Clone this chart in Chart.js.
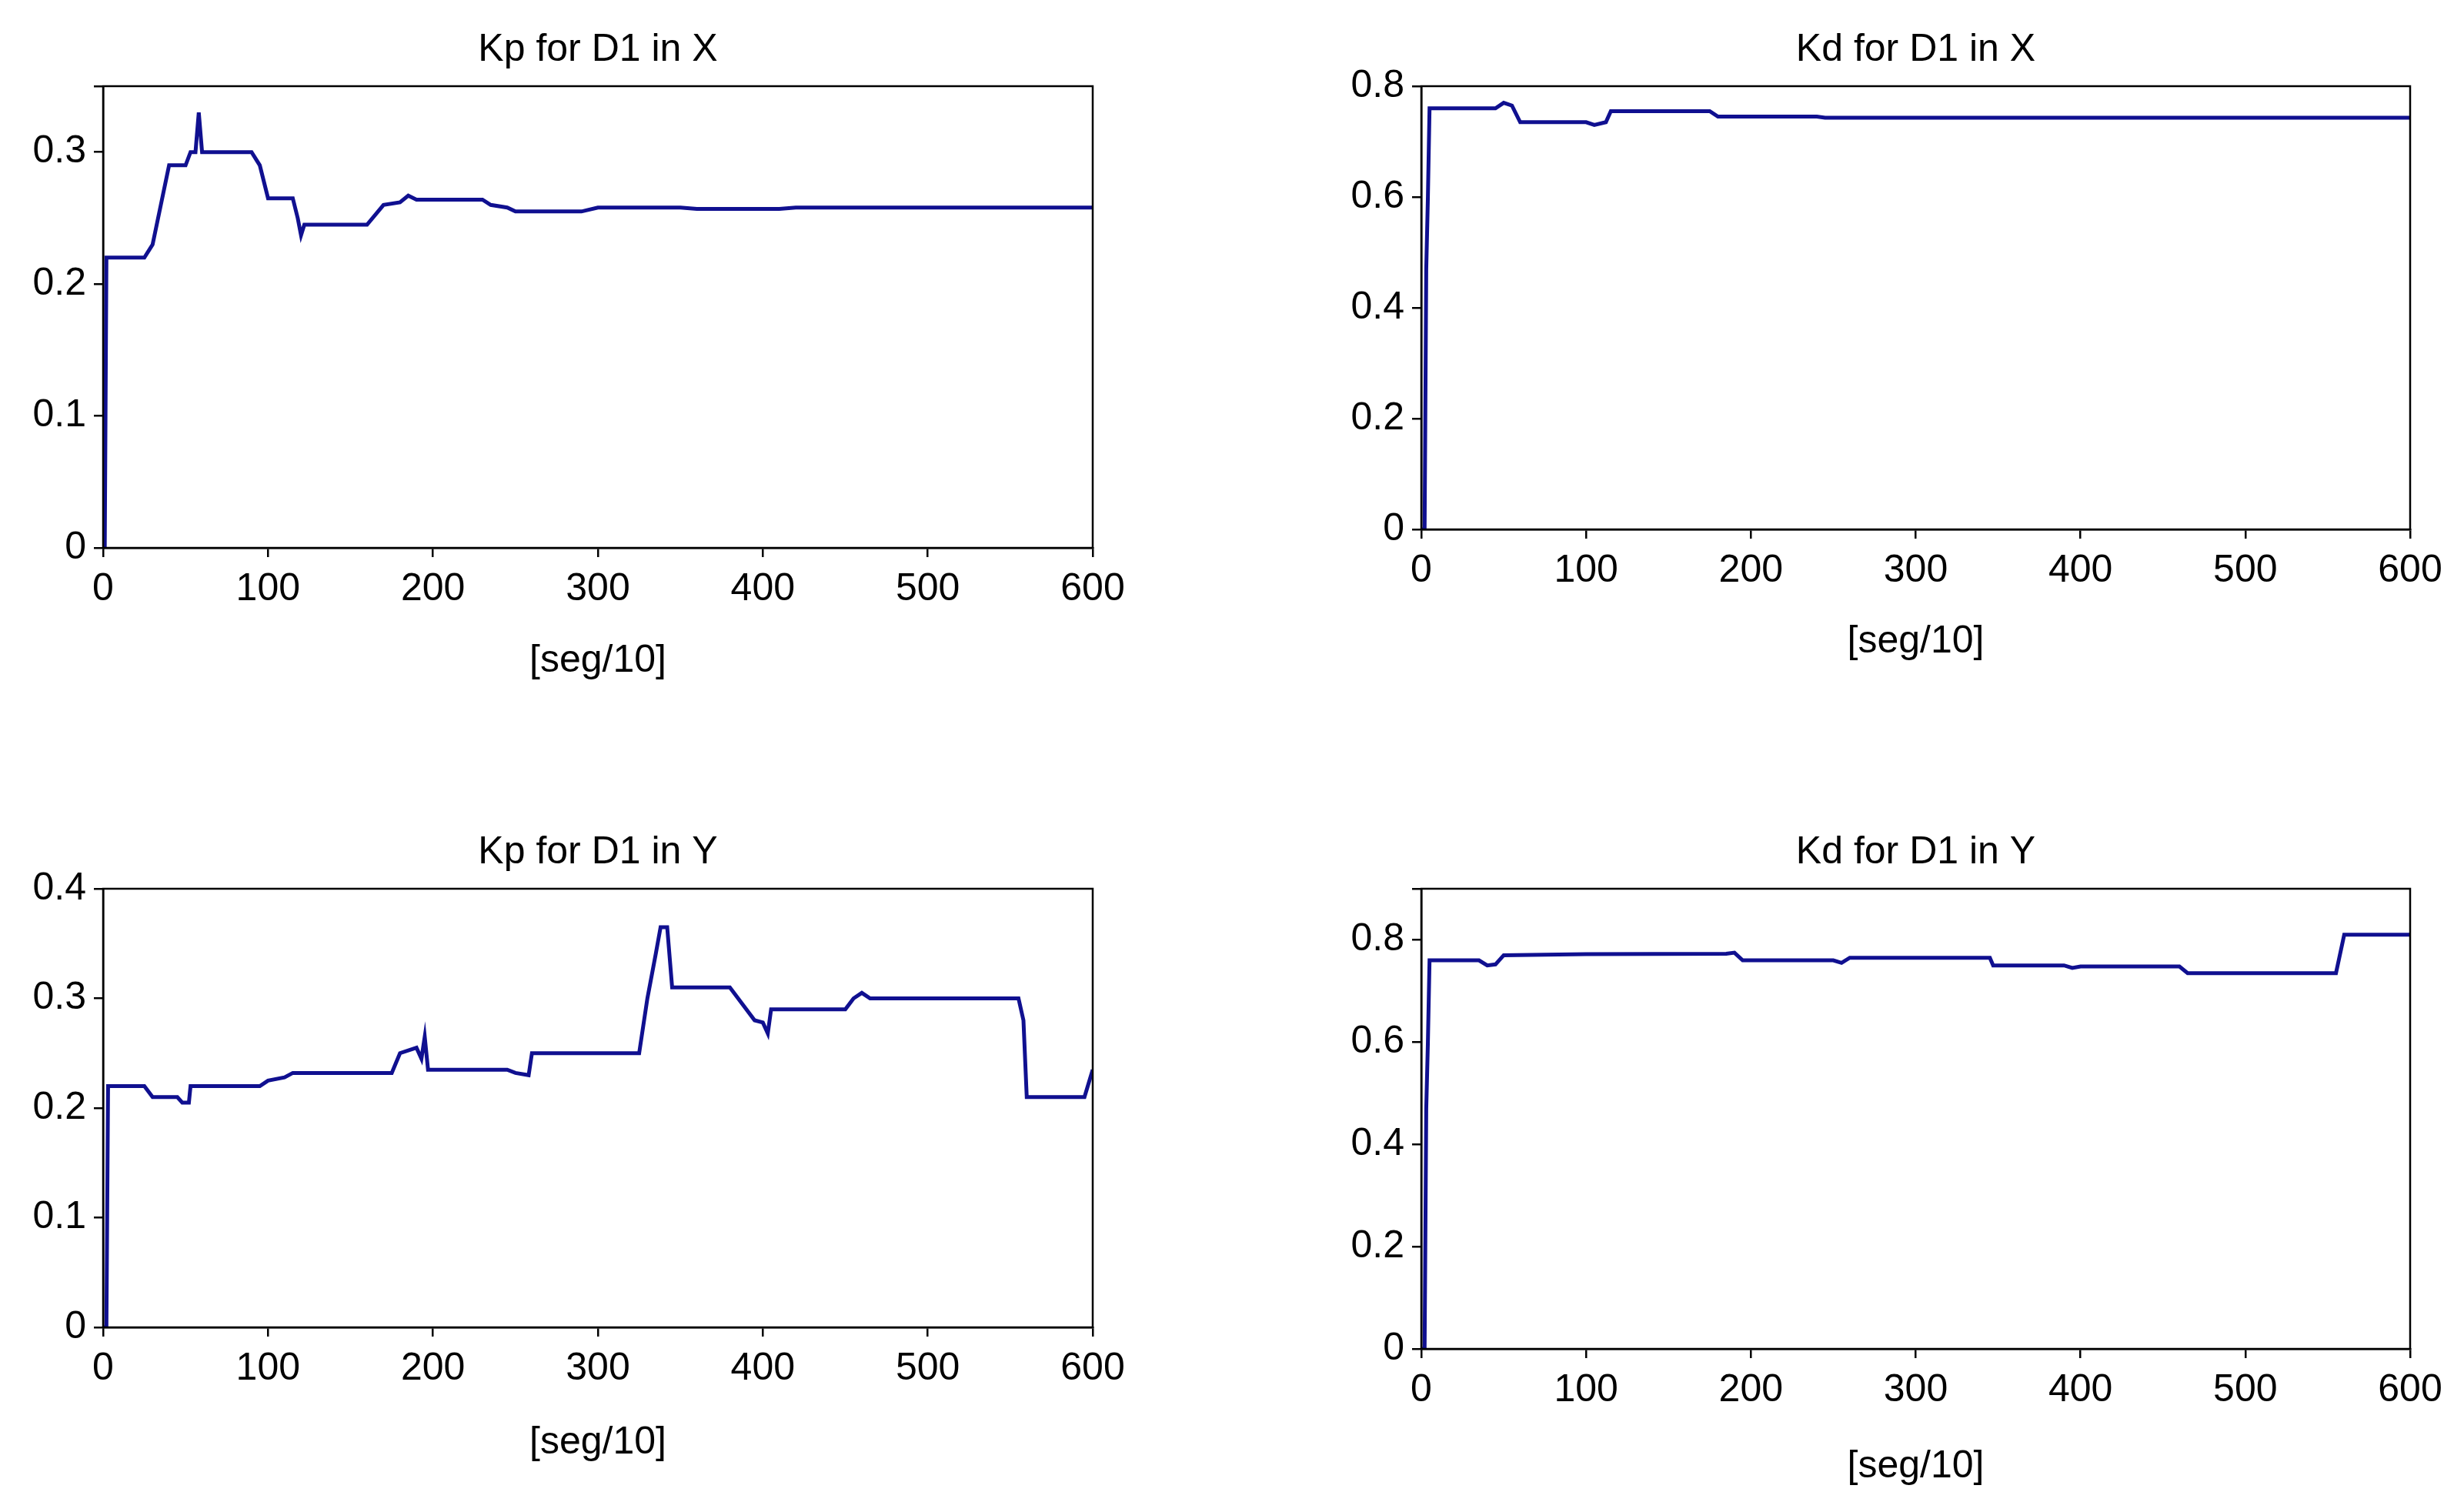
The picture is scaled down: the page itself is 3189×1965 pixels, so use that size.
<!DOCTYPE html>
<html><head><meta charset="utf-8">
<script src="https://cdn.jsdelivr.net/npm/chart.js@4"></script>
<style>body{margin:0;background:#fff;width:3189px;height:1965px;position:relative;overflow:hidden}
.p{position:absolute}</style></head><body>
<div class="p" style="left:0;top:0;width:1480px;height:960px"><canvas id="c1"></canvas></div>
<div class="p" style="left:1700px;top:0;width:1489px;height:960px"><canvas id="c2"></canvas></div>
<div class="p" style="left:0;top:1000px;width:1480px;height:965px"><canvas id="c3"></canvas></div>
<div class="p" style="left:1700px;top:1000px;width:1489px;height:965px"><canvas id="c4"></canvas></div>
<script>
const kpX_x=[0,1,2,25,30,35,40,50,53,56,58,60,90,95,100,115,118,120,122,160,170,180,185,190,230,235,245,250,290,300,350,360,410,420,600];
const kpX_y=[0,0,0.22,0.22,0.23,0.26,0.29,0.29,0.30,0.30,0.33,0.30,0.30,0.29,0.265,0.265,0.25,0.237,0.245,0.245,0.26,0.262,0.267,0.264,0.264,0.26,0.258,0.255,0.255,0.258,0.258,0.257,0.257,0.258,0.258];
const kdX_x=[0,2,3,4,5,45,50,55,60,100,105,112,115,175,180,240,245,600];
const kdX_y=[0,0,0.47,0.6,0.76,0.76,0.77,0.765,0.735,0.735,0.73,0.735,0.755,0.755,0.745,0.745,0.743,0.743];
const kpY_x=[0,2,3,25,30,45,48,52,53,95,100,110,115,175,180,190,193,195,197,245,250,258,260,325,330,335,338,342,345,380,390,395,400,403,405,450,455,460,463,465,555,558,560,595,597,600];
const kpY_y=[0,0,0.22,0.22,0.21,0.21,0.205,0.205,0.22,0.22,0.225,0.228,0.232,0.232,0.25,0.255,0.245,0.265,0.235,0.235,0.232,0.23,0.25,0.25,0.3,0.34,0.365,0.365,0.31,0.31,0.29,0.28,0.278,0.268,0.29,0.29,0.3,0.305,0.302,0.3,0.3,0.28,0.21,0.21,0.22,0.235];
const kdY_x=[0,2,3,4,5,35,40,45,50,100,185,190,195,250,255,260,345,347,390,395,400,460,465,555,557,560,600];
const kdY_y=[0,0,0.47,0.6,0.76,0.76,0.75,0.752,0.77,0.772,0.773,0.775,0.76,0.76,0.755,0.765,0.765,0.75,0.75,0.745,0.748,0.748,0.735,0.735,0.765,0.81,0.81];
const titles=["Kp for D1 in X","Kd for D1 in X","Kp for D1 in Y","Kd for D1 in Y"];
const xTitle="[seg/10]";
const F="'Liberation Sans', Arial, sans-serif";
const boxPlug={id:'box',afterDraw(c){const a=c.chartArea,x=c.ctx;x.save();x.strokeStyle='#000';x.lineWidth=2.5;x.strokeRect(a.left,a.top,a.right-a.left,a.bottom-a.top);
x.fillStyle='#000';x.font='50px '+F;x.textAlign='center';x.textBaseline='bottom';x.fillText(c.options.plugins.myTitle,(a.left+a.right)/2,a.top-22);x.restore();}};
function mk(id,xs,ys,ymax,step,t,padTop,yW,padR,xH,padB){
 new Chart(document.getElementById(id),{type:'line',
 data:{datasets:[{data:xs.map((v,i)=>({x:v,y:ys[i]})),borderColor:'#101090',borderWidth:5,pointRadius:0,tension:0,stepped:false}]},
 options:{responsive:true,maintainAspectRatio:false,animation:false,
  layout:{padding:{top:padTop,right:padR,left:0,bottom:padB}},
  plugins:{legend:{display:false},tooltip:{enabled:false},myTitle:t},
  scales:{
   x:{type:'linear',min:0,max:600,afterFit(s){s.height=xH;},
      ticks:{stepSize:100,color:'#000',font:{size:50,family:F},padding:12,maxRotation:0},
      grid:{drawOnChartArea:false,color:'#000',tickLength:12,lineWidth:2.5},border:{color:'#000',width:2.5},
      title:{display:true,text:xTitle,color:'#000',font:{size:50,family:F},padding:{top:8}}},
   y:{min:0,max:ymax,afterFit(s){s.width=yW;},
      ticks:{stepSize:step,color:'#000',font:{size:50,family:F},padding:10,callback:v=>Math.abs(v-ymax)<1e-9&&ymax%step>1e-9?'':+v.toFixed(1)},
      grid:{drawOnChartArea:false,color:'#000',tickLength:12,lineWidth:2.5},border:{color:'#000',width:2.5}}}},
 plugins:[boxPlug]});
}
mk('c1',kpX_x,kpX_y,0.35,0.1,titles[0],112,134,60,181,67);
mk('c2',kdX_x,kdX_y,0.8,0.2,titles[1],112,147,57,180,92);
mk('c3',kpY_x,kpY_y,0.4,0.1,titles[2],155,134,60,184,56);
mk('c4',kdY_x,kdY_y,0.9,0.2,titles[3],155,147,57,187,25);
</script></body></html>
